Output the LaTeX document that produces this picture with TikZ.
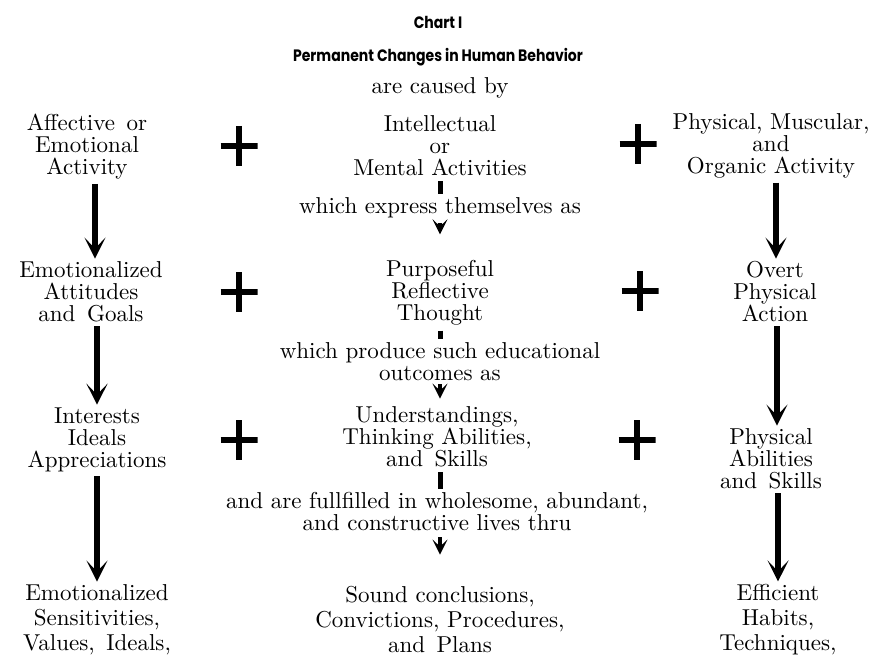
\documentclass[tikz,border=0pt]{standalone}
\usepackage{fontspec}
\setmainfont{lmroman10-regular.otf}
\newfontfamily\titlefont{Poppins}[FakeStretch=0.85]
\usetikzlibrary{arrows.meta}
\begin{document}
\begin{tikzpicture}[x=1pt,y=-1pt,
  txt/.style={align=center, font=\fontsize{23}{22}\selectfont, inner sep=1pt},
  txtlow/.style={align=center, font=\fontsize{23}{25}\selectfont, inner sep=1pt},
  ttl/.style={font=\titlefont\bfseries\fontsize{16.5}{18}\selectfont, inner sep=1pt},
  plusnode/.style={minimum width=37pt, minimum height=40pt, inner sep=0pt,
    path picture={\draw[line width=6pt] (path picture bounding box.north) -- (path picture bounding box.south);
      \draw[line width=6pt] (path picture bounding box.west) -- (path picture bounding box.east);}},
  bigarrow/.style={line width=6pt, -{Stealth[length=21pt,width=21pt,inset=11pt]}, shorten <=3pt, shorten >=2pt},
  stub/.style={line width=5pt, shorten <=4pt, shorten >=3pt},
  smallarrow/.style={line width=4pt, -{Stealth[length=15pt,width=15pt,inset=7pt]}}
]
\useasboundingbox (0,0) rectangle (875,663);
\fill[white] (0,0) rectangle (875,663);

\node[ttl] (t1) at (438,22) {Chart I};
\node[ttl] (t2) at (438,57) {Permanent Changes in Human Behavior};
\node[txt] (t3) at (440,88) {are caused by};

% row 1
\node[txt] (l1) at (87,147) {Affective\enspace or\\Emotional\\Activity};
\node[plusnode] (pl1) at (239,146) {};
\node[txt] (c1) at (440,146) {Intellectual\\or\\Mental Activities};
\node[plusnode] (pr1) at (638,144) {};
\node[txt] (r1) at (771,146) {Physical, Muscular,\\and\\Organic Activity};

\node[txt] (e1) at (440,208) {which express themselves as};

% row 2
\node[txt] (l2) at (91,292) {Emotionalized\\Attitudes\\and\enspace Goals};
\node[plusnode] (pl2) at (239,292) {};
\node[txt] (c2) at (440,293) {Purposeful\\Reflective\\Thought};
\node[plusnode] (pr2) at (640,291) {};
\node[txt] (r2) at (775,292) {Overt\\Physical\\Action};

\node[txt] (e2) at (440,362) {which produce such educational\\outcomes as};

% row 3
\node[txt] (l3) at (97,440) {Interests\\Ideals\\Appreciations};
\node[plusnode] (pl3) at (239,440) {};
\node[txt] (c3) at (437,437) {Understandings,\\Thinking Abilities,\\and\enspace Skills};
\node[plusnode] (pr3) at (637,440) {};
\node[txt] (r3) at (771,459) {Physical\\Abilities\\and\enspace Skills};

\node[txt] (e3) at (437,512) {and are fullfilled in wholesome, abundant,\\and constructive lives thru};

% row 4
\node[txtlow] (l4) at (97,620) {Emotionalized\\Sensitivities,\\Values,\enspace Ideals,};
\node[txtlow] (c4) at (440,620) {Sound conclusions,\\Convictions, Procedures,\\and\enspace Plans};
\node[txtlow] (r4) at (778,620) {Efficient\\Habits,\\Techniques,};

% left column arrows
\draw[bigarrow] (l1.south -| 95,0) -- (l2.north -| 95,0);
\draw[bigarrow] (l2.south -| 97,0) -- (l3.north -| 97,0);
\draw[bigarrow] (l3.south -| 97,0) -- (l4.north -| 97,0);
% right column arrows
\draw[bigarrow] (r1.south -| 776,0) -- (r2.north -| 776,0);
\draw[bigarrow] (r2.south -| 777,0) -- (r3.north -| 777,0);
\draw[bigarrow] (r3.south -| 778,0) -- (r4.north -| 778,0);
% centre column
\draw[stub] (c1.south -| 440,0) -- (e1.north -| 440,0);
\draw[smallarrow, shorten <=4pt, shorten >=25pt] (e1.south -| 440,0) -- (c2.north -| 440,0);
\draw[stub] (c2.south -| 440,0) -- (e2.north -| 440,0);
\draw[smallarrow, shorten <=2pt, shorten >=7pt] (e2.south -| 440,0) -- (c3.north -| 440,0);
\draw[stub] (c3.south -| 440,0) -- (e3.north -| 440,0);
\draw[smallarrow, shorten <=5pt, shorten >=31pt] (e3.south -| 440,0) -- (c4.north -| 440,0);
\end{tikzpicture}
\end{document}
